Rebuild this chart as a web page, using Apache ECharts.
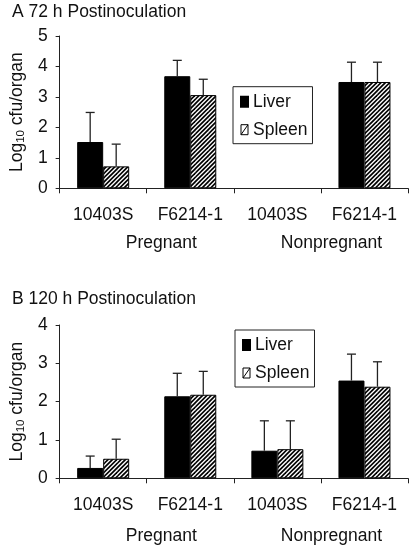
<!DOCTYPE html>
<html>
<head>
<meta charset="utf-8">
<script src="https://cdn.jsdelivr.net/npm/echarts@6/dist/echarts.min.js"></script>
<style>
html,body{margin:0;padding:0;background:#fff;}
#c{width:412px;height:550px;}
</style>
</head>
<body>
<div id="c"></div>
<script>
// ---- data ----
const strains = ['10403S', 'F6214-1', '10403S', 'F6214-1'];
const groups = ['Pregnant', 'Nonpregnant'];
const titleA = 'A 72 h Postinoculation';
const titleB = 'B 120 h Postinoculation';
const ticksA = [0, 1, 2, 3, 4, 5];
const ticksB = [0, 1, 2, 3, 4];
const liverA = [1.52, 3.68, null, 3.49];
const liverA_err = [2.49, 4.20, null, 4.14];
const spleenA = [0.72, 3.06, null, 3.49];
const spleenA_err = [1.45, 3.58, null, 4.14];
const liverB = [0.27, 2.14, 0.72, 2.55];
const liverB_err = [0.58, 2.74, 1.50, 3.24];
const spleenB = [0.51, 2.18, 0.76, 2.39];
const spleenB_err = [1.02, 2.79, 1.50, 3.04];

// ---- hatch pattern ----
function hatch() {
  const s = 13, c = document.createElement('canvas');
  c.width = s; c.height = s;
  const g = c.getContext('2d');
  g.fillStyle = '#fff'; g.fillRect(0, 0, s, s);
  g.strokeStyle = '#000'; g.lineWidth = 1.7;
  for (let k = -6; k <= 12; k++) {
    const cc = k * s / 3;
    g.beginPath(); g.moveTo(cc - s, s + s); g.lineTo(cc + 2 * s, -s);
    g.stroke();
  }
  return c;
}
const pattern = { image: hatch(), repeat: 'repeat' };

const FONT = 'Liberation Sans, Arial, sans-serif';
const FS = 17.5;
const BW = 26;

function errData(vals, errs, sign) {
  const out = [];
  vals.forEach((v, i) => { if (errs[i] != null && v != null) out.push([i, v, errs[i], sign]); });
  return out;
}
function errSeries(xi, yi, vals, errs, sign) {
  return {
    type: 'custom', xAxisIndex: xi, yAxisIndex: yi, z: 5, silent: true,
    data: errData(vals, errs, sign),
    renderItem: function (params, api) {
      const b = api.coord([api.value(0), api.value(1)]);
      const t = api.coord([api.value(0), api.value(2)]);
      const x = b[0] + api.value(3) * BW / 2;
      const st = { stroke: '#222', lineWidth: 1.3 };
      return { type: 'group', children: [
        { type: 'line', shape: { x1: x, y1: b[1], x2: x, y2: t[1] }, style: st },
        { type: 'line', shape: { x1: x - 4.5, y1: t[1], x2: x + 4.5, y2: t[1] }, style: st }
      ]};
    }
  };
}

function catAxis(gi) {
  return {
    type: 'category', gridIndex: gi, data: strains, position: 'bottom',
    axisLine: { lineStyle: { color: '#222', width: 1 } },
    axisTick: { show: true, length: 5, lineStyle: { color: '#222' } },
    axisLabel: { color: '#111', fontFamily: FONT, fontSize: FS, margin: 18, interval: 0 },
    splitLine: { show: false }
  };
}
function grpAxis(gi, margin) {
  return {
    type: 'category', gridIndex: gi, data: groups, position: 'bottom',
    axisLine: { show: false }, axisTick: { show: false }, splitLine: { show: false },
    axisLabel: {
      margin: margin, interval: 0,
      formatter: v => v === groups[0] ? '{p|' + v + '}' : '{q|' + v + '}',
      rich: {
        p: { color: '#111', fontFamily: FONT, fontSize: FS, padding: [0, 0, 0, 29] },
        q: { color: '#111', fontFamily: FONT, fontSize: FS, padding: [0, 0, 0, 21] }
      }
    }
  };
}
function valAxis(gi, ticks) {
  return {
    type: 'value', gridIndex: gi, min: ticks[0], max: ticks[ticks.length - 1], interval: 1,
    axisLine: { show: true, lineStyle: { color: '#222', width: 1 } },
    axisTick: { show: true, length: 4, lineStyle: { color: '#222' } },
    splitLine: { show: false },
    axisLabel: { color: '#111', fontFamily: FONT, fontSize: FS, margin: 12 },
    name: '{n|Log}{s|10}{n| cfu/organ}',
    nameLocation: 'middle', nameRotate: 90, nameGap: 32,
    nameTextStyle: {
      rich: {
        n: { color: '#111', fontFamily: FONT, fontSize: FS, lineHeight: 20 },
        s: { color: '#111', fontFamily: FONT, fontSize: 11.5, lineHeight: 12, verticalAlign: 'bottom' }
      }
    }
  };
}
function legend(left, top) {
  return {
    orient: 'vertical', left: left, top: top, padding: [6, 5, 5, 7],
    borderColor: '#222', borderWidth: 1, itemWidth: 7, itemHeight: 10, itemGap: 10,
    textStyle: { color: '#111', fontFamily: FONT, fontSize: FS, lineHeight: 18 },
    selectedMode: false,
    data: [
      { name: 'Liver', icon: 'rect', itemStyle: { color: '#000' } },
      { name: 'Spleen', icon: 'path://M0,0L7,0L7,10L0,10Z M0,10L7,0',
        itemStyle: { color: '#fff', borderColor: '#000', borderWidth: 1 } }
    ]
  };
}
function bar(name, xi, yi, vals, spleen) {
  return {
    type: 'bar', name: name, xAxisIndex: xi, yAxisIndex: yi, data: vals,
    barWidth: BW, barGap: '0%', z: 2,
    itemStyle: spleen ? { color: pattern, borderColor: '#000', borderWidth: 1 }
                      : { color: '#000', borderColor: '#000', borderWidth: 1 }
  };
}

const chart = echarts.init(document.getElementById('c'), null, { renderer: 'canvas' });
chart.setOption({
  animation: false,
  backgroundColor: '#fff',
  title: [
    { text: titleA, left: 12, top: 3, padding: 0,
      textStyle: { color: '#111', fontFamily: FONT, fontSize: FS, fontWeight: 'normal' } },
    { text: titleB, left: 12, top: 290, padding: 0,
      textStyle: { color: '#111', fontFamily: FONT, fontSize: FS, fontWeight: 'normal' } }
  ],
  legend: [legend(233, 86.7), legend(235, 330)],
  grid: [
    { left: 49, right: 4, top: 36, height: 152.3 },
    { left: 49, right: 4, top: 325, height: 153.3 }
  ],
  xAxis: [catAxis(0), grpAxis(0, 46), catAxis(1), grpAxis(1, 49)],
  yAxis: [valAxis(0, ticksA), valAxis(1, ticksB)],
  series: [
    bar('Liver', 0, 0, liverA, false),
    bar('Spleen', 0, 0, spleenA, true),
    bar('Liver', 2, 1, liverB, false),
    bar('Spleen', 2, 1, spleenB, true),
    errSeries(0, 0, liverA, liverA_err, -1),
    errSeries(0, 0, spleenA, spleenA_err, 1),
    errSeries(2, 1, liverB, liverB_err, -1),
    errSeries(2, 1, spleenB, spleenB_err, 1)
  ]
});
</script>
</body>
</html>
